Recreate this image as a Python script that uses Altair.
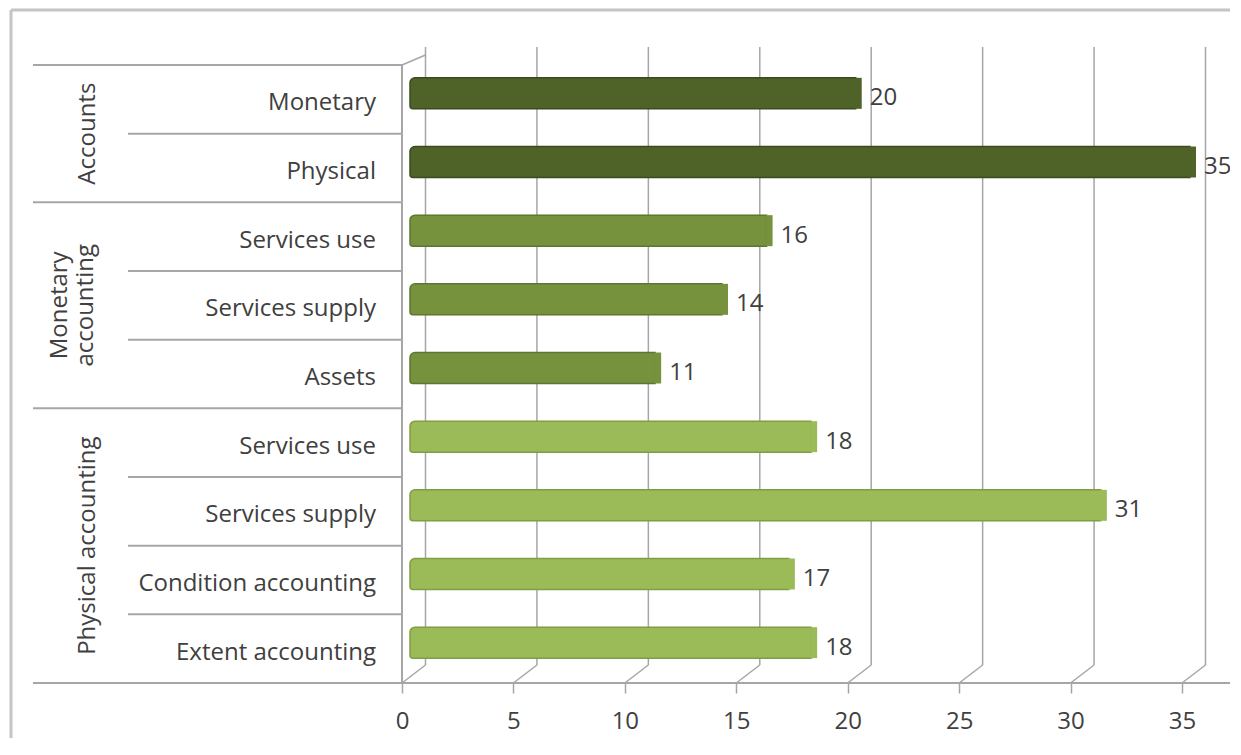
import altair as alt
import pandas as pd

# ---------------- data ----------------
groups = ["Accounts", "Accounts",
          "Monetary accounting", "Monetary accounting", "Monetary accounting",
          "Physical accounting", "Physical accounting", "Physical accounting", "Physical accounting"]
categories = ["Monetary", "Physical",
              "Services use", "Services supply", "Assets",
              "Services use", "Services supply", "Condition accounting", "Extent accounting"]
values = [20, 35, 16, 14, 11, 18, 31, 17, 18]
tick_values = [0, 5, 10, 15, 20, 25, 30, 35]
group_names = ["Accounts", "Monetary accounting", "Physical accounting"]
group_labels = ["Accounts", "Monetary\naccounting", "Physical accounting"]

# ---------------- style ----------------
FONT = "Open Sans"
TXT = "#404040"
GRID = "#A6A6A6"
face_colors = ["#4F6228", "#76923C", "#9BBB59"]
edge_colors = ["#3C4B1E", "#5E7630", "#7F9E44"]
side_colors = ["#34421A", "#566D2B", "#73923B"]

W, H = 1222, 675
X_FRONT = (394, 1174)      # pixel range of 0..35 on the front edge
Y_RANGE = (57, 675)        # pixel range of the 9 rows
DX, DY = 23.5, -18         # depth offset of the back wall
BACK_TOP = 39

# ---------------- tables ----------------
bars = pd.DataFrame({
    "row": list(range(len(categories))),
    "group": groups,
    "category": categories,
    "value": values,
})
bars["center"] = bars["row"] + 0.5

ticks = pd.DataFrame({"t": tick_values})

bounds_group, bounds_row = [0], []
for i in range(1, len(groups)):
    (bounds_group if groups[i] != groups[i - 1] else bounds_row).append(i)
gdf = pd.DataFrame({"b": bounds_group})
rdf = pd.DataFrame({"b": bounds_row})

glab = []
for name, lab in zip(group_names, group_labels):
    idx = [i for i, g in enumerate(groups) if g == name]
    glab.append({"group": name, "label": lab, "mid": (min(idx) + max(idx) + 1) / 2,
                 "multi": "\n" in lab})
glab = pd.DataFrame(glab)

xs = alt.Scale(domain=[0, 35], range=list(X_FRONT), nice=False, zero=False, padding=0)
ys = alt.Scale(domain=[0, len(categories)], range=list(Y_RANGE), nice=False, zero=False, padding=0)
xax = alt.Axis(values=tick_values, grid=False, domain=False, ticks=True, tickSize=10,
               tickWidth=1.5, tickColor=GRID, labelFont=FONT, labelFontSize=24,
               labelColor=TXT, labelPadding=16, title=None, labelFlush=False)
X = lambda f: alt.X(f, scale=xs, axis=xax)
Y = lambda f: alt.Y(f, scale=ys, axis=None)
cscale = lambda rng: alt.Scale(domain=group_names, range=rng)

# back wall gridlines
grid_back = alt.Chart(ticks).mark_rule(color=GRID, strokeWidth=1.5, xOffset=DX).encode(
    x=X("t:Q"), y=alt.value(BACK_TOP), y2=alt.value(Y_RANGE[1] + DY))
# floor diagonals
grid_floor = alt.Chart(ticks).mark_rule(color=GRID, strokeWidth=1.5, x2Offset=DX).encode(
    x=X("t:Q"), x2=alt.X2("t:Q"), y=alt.value(Y_RANGE[1]), y2=alt.value(Y_RANGE[1] + DY))
# left wall: front edge + top diagonal
wall_front = alt.Chart(ticks.head(1)).mark_rule(color=GRID, strokeWidth=2).encode(
    x=X("t:Q"), y=alt.value(Y_RANGE[0]), y2=alt.value(Y_RANGE[1]))
wall_top = alt.Chart(ticks.head(1)).mark_rule(color=GRID, strokeWidth=1.5, x2Offset=DX).encode(
    x=X("t:Q"), x2=alt.X2("t:Q"), y=alt.value(Y_RANGE[0]), y2=alt.value(BACK_TOP + 8))

# row separators in the category area
sep_group = alt.Chart(gdf).mark_rule(color=GRID, strokeWidth=2).encode(
    x=alt.value(25), x2=alt.value(X_FRONT[0]), y=Y("b:Q"))
sep_row = alt.Chart(rdf).mark_rule(color=GRID, strokeWidth=2).encode(
    x=alt.value(120), x2=alt.value(X_FRONT[0]), y=Y("b:Q"))
floor = alt.Chart(ticks.head(1)).mark_rule(color=GRID, strokeWidth=2).encode(
    x=alt.value(25), x2=alt.value(W), y=alt.value(Y_RANGE[1]))

# outer frame (top and left edges visible)
frame_top = alt.Chart(ticks.head(1)).mark_rule(color="#C4C4C4", strokeWidth=3).encode(
    x=alt.value(3), x2=alt.value(W), y=alt.value(2))
frame_left = alt.Chart(ticks.head(1)).mark_rule(color="#C4C4C4", strokeWidth=3).encode(
    x=alt.value(3), y=alt.value(2), y2=alt.value(740))

# bars (front face) + side face
bar_face = alt.Chart(bars).mark_bar(orient="horizontal", xOffset=8, x2Offset=8, yOffset=-6,
                                    cornerRadiusTopLeft=5, cornerRadiusBottomLeft=3,
                                    strokeWidth=1.5).encode(
    x=X("value:Q"), x2=alt.X2("zero:Q"),
    y=Y("center:Q"), size=alt.value(31),
    color=alt.Color("group:N", scale=cscale(face_colors), legend=None),
    stroke=alt.Stroke("group:N", scale=cscale(edge_colors), legend=None),
).transform_calculate(zero="0")
bar_side = alt.Chart(bars).mark_bar(orient="horizontal", xOffset=7, x2Offset=14, yOffset=-6).encode(
    x=X("value:Q"), x2=alt.X2("value:Q"),
    y=Y("center:Q"), size=alt.value(31),
    color=alt.Color("group:N", scale=cscale(side_colors), legend=None),
)

value_text = alt.Chart(bars).mark_text(align="left", baseline="middle", dx=22, dy=-1,
                                       font=FONT, fontSize=24, color=TXT).encode(
    x=X("value:Q"), y=Y("center:Q"), text="value:Q")

cat_text = alt.Chart(bars).mark_text(align="right", baseline="middle", dy=4,
                                     font=FONT, fontSize=24, color=TXT).encode(
    x=alt.value(368), y=Y("center:Q"), text="category:N")

grp_single = alt.Chart(glab).transform_filter("!datum.multi").mark_text(
    angle=270, align="center", baseline="middle", font=FONT, fontSize=24, color=TXT).encode(
    x=alt.value(80), y=Y("mid:Q"), text="label:N")
grp_multi = alt.Chart(glab).transform_filter("datum.multi").mark_text(
    angle=270, align="center", baseline="middle", lineBreak="\n", lineHeight=26,
    font=FONT, fontSize=24, color=TXT).encode(
    x=alt.value(52), y=Y("mid:Q"), text="label:N")

chart = alt.layer(
    frame_top, frame_left, grid_back, grid_floor, wall_top, wall_front,
    sep_group, sep_row, floor, bar_face, bar_side, value_text, cat_text,
    grp_single, grp_multi,
).properties(
    width=W, height=H,
    autosize=alt.AutoSizeParams(type="none"),
    padding={"left": 0, "top": 0, "right": 0, "bottom": 55},
    background="white",
).configure_view(stroke=None)

chart.save("out.html", embed_options={"renderer": "svg", "actions": False})
